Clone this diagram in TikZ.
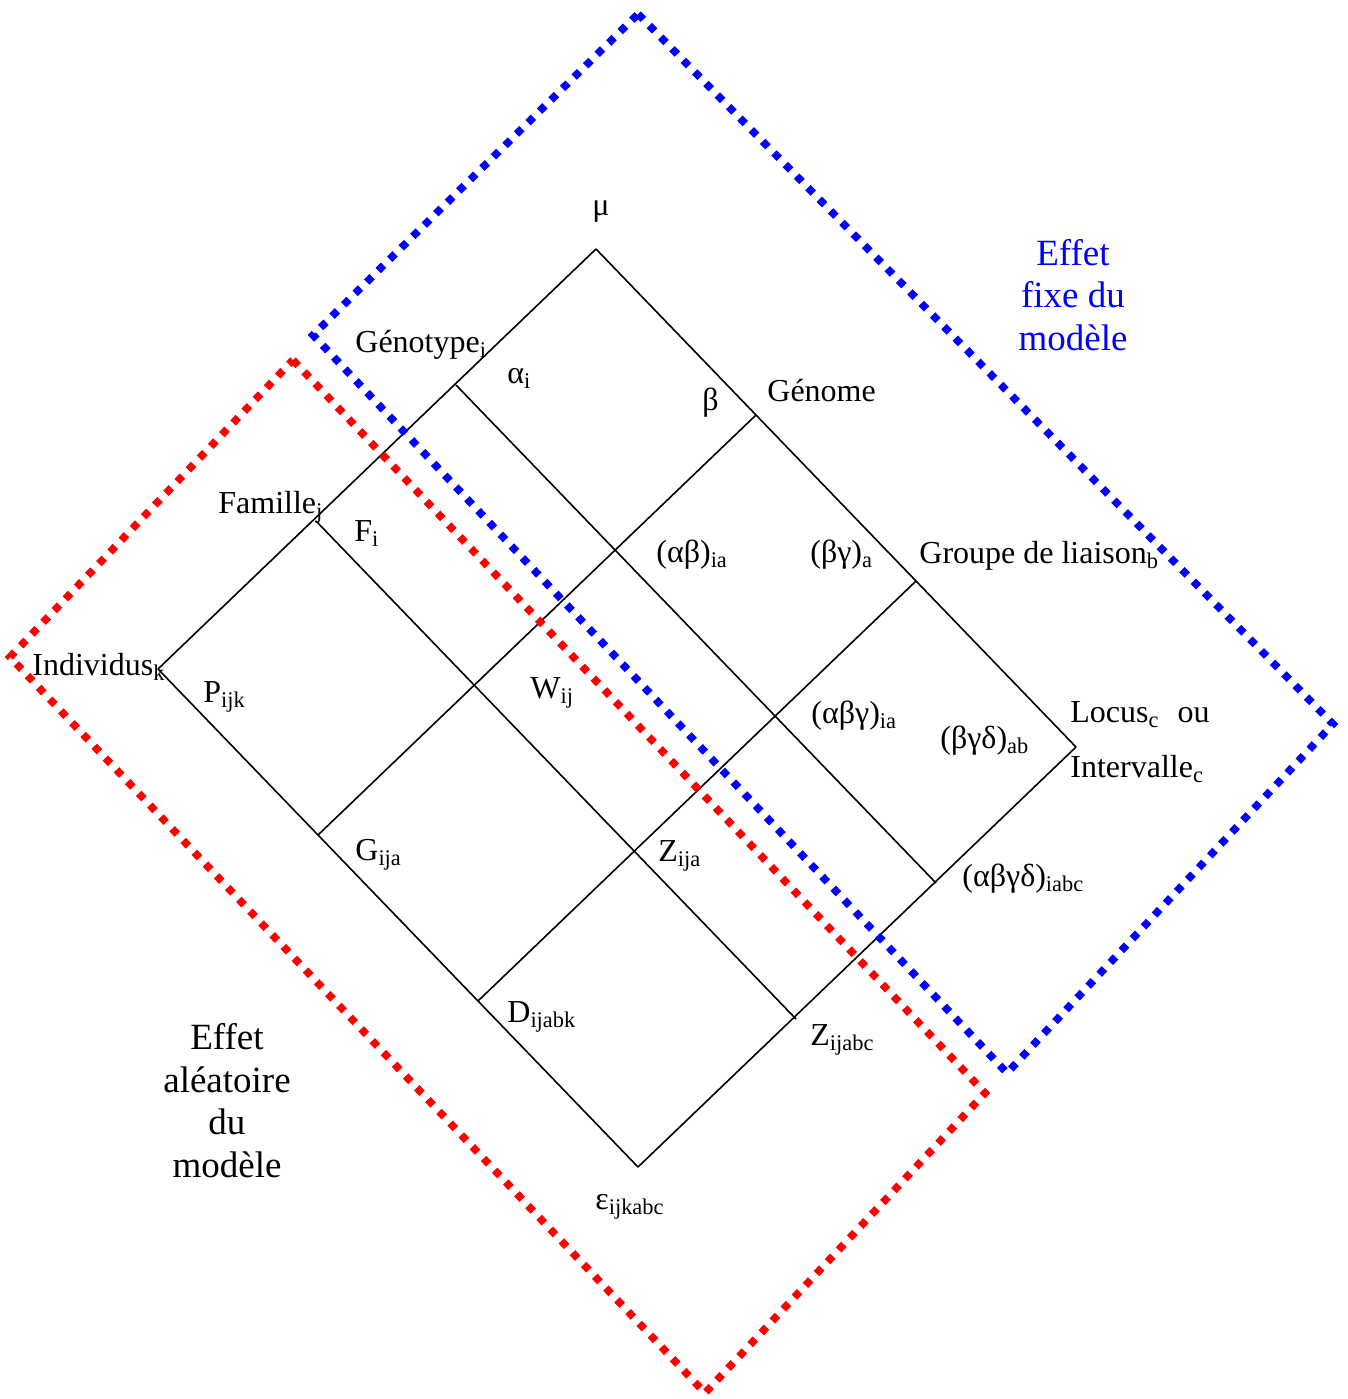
\documentclass[tikz,border=0pt]{standalone}
\usepackage{fontspec}
\setmainfont{Liberation Serif}
\usetikzlibrary{positioning}
\newcommand{\subtxt}[1]{\textsubscript{#1}}

\begin{document}
\begin{tikzpicture}[x=0.5pt, y=-0.5pt]
    \tikzset{latline/.style={draw, line width=0.8pt}}
    \tikzset{lab/.style={anchor=base west, inner sep=0pt, font=\fontsize{16}{19}\selectfont}}
    \tikzset{effect/.style={align=center, inner sep=0pt, font=\fontsize{18.5}{21.25}\selectfont}}
    \tikzset{zone/.style={line width=3.8pt, dash pattern=on 3.8pt off 4.3pt}}

    \useasboundingbox (0,0) rectangle (1348,1399);

    % Lattice
    \foreach \b/\wx/\wy in {0/0/0, 1/-140/136, 2/-280/272, 3/-438/420}
        \foreach \a in {0,...,3}
            \coordinate (g\a\b) at ({596+160*\a+\wx}, {249+166*\a+\wy});
    \foreach \i in {0,...,3} {
        \draw[latline] (g0\i) -- (g3\i);
        \draw[latline] (g\i0) -- (g\i3);
    }

    % Zones
    \draw[zone, blue] (638,14) -- (1333,724) -- (1007,1073) -- (313,335) -- cycle;
    \draw[zone, red] (293,360) -- (985,1093) -- (705,1393) -- (10,657) -- cycle;

    % Labels
    \node[lab, anchor=base] (mu) at (601,215) {μ};
    \node[lab] (geno) at (355,352) {Génotype\subtxt{i}};
    \node[lab] (alpha) at (507,383) {α\subtxt{i}};
    \node[lab] (beta) at (702,410) {β};
    \node[lab] (genome) at (767,401) {Génome};
    \node[lab] (famille) at (218,513) {Famille\subtxt{j}};
    \node[lab] (fam) at (354,541) {F\subtxt{i}};
    \node[lab] (indiv) at (32,675) {Individus\subtxt{k}};
    \node[lab] (pijk) at (203,702) {P\subtxt{ijk}};
    \node[lab] (wij) at (530,698) {W\subtxt{ij}};
    \node[lab] (ab) at (656,562) {(αβ)\subtxt{ia}};
    \node[lab] (bg) at (810,562) {(βγ)\subtxt{a}};
    \node[lab] (groupe) at (919,563) {Groupe de liaison\subtxt{b}};
    \node[lab] (abg) at (811,723) {(αβγ)\subtxt{ia}};
    \node[lab] (bgd) at (940,748) {(βγδ)\subtxt{ab}};
    \node[lab] (locus) at (1070,722) {Locus\subtxt{c}\hspace{9pt}ou};
    \node[lab] (interv) at (1070,777) {Intervalle\subtxt{c}};
    \node[lab] (gija) at (355,860) {G\subtxt{ija}};
    \node[lab] (zija) at (658,861) {Z\subtxt{ija}};
    \node[lab] (abgd) at (962,886) {(αβγδ)\subtxt{iabc}};
    \node[lab] (dijabk) at (507,1022) {D\subtxt{ijabk}};
    \node[lab] (zijabc) at (810,1045) {Z\subtxt{ijabc}};
    \node[lab] (eps) at (595,1209) {ε\subtxt{ijkabc}};

    % Zone titles (base = last line)
    \node[effect, text=blue, anchor=base] (fixe) at (1073,350) {Effet\\fixe du\\modèle};
    \node[effect, anchor=base] (alea) at (227,1177) {Effet\\aléatoire\\du\\modèle};
\end{tikzpicture}
\end{document}
